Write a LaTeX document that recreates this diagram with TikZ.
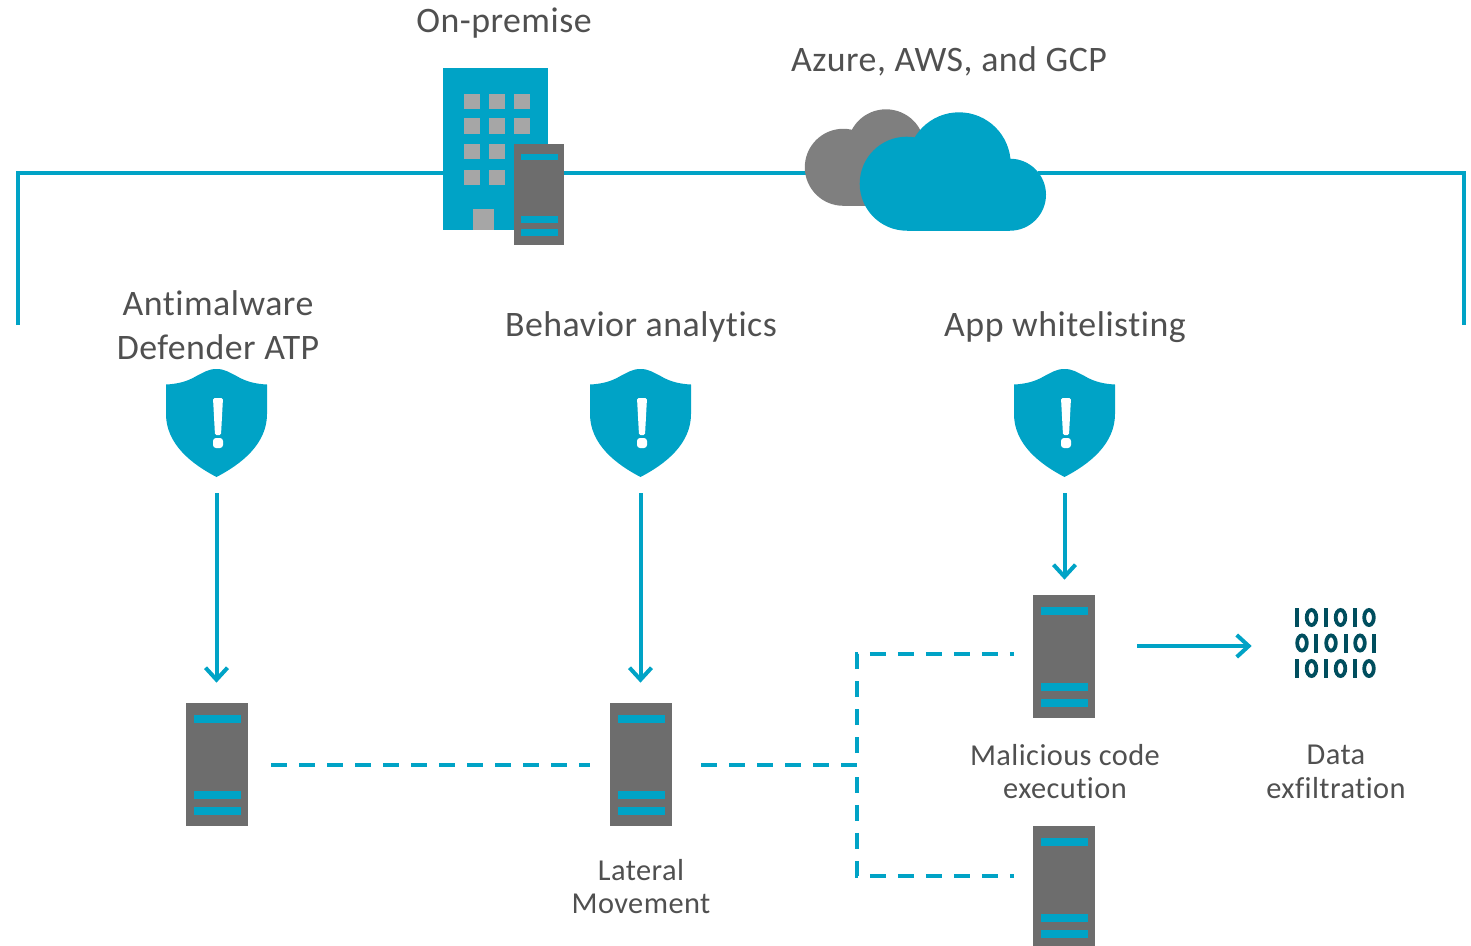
\documentclass[tikz,border=0pt]{standalone}
\usepackage{fontspec}
\setmainfont[LetterSpace=1.4,Ligatures=NoCommon]{Carlito}
\usepackage{tikz}
\usetikzlibrary{calc}
\usetikzlibrary{arrows.meta}
\definecolor{wireteal}{HTML}{00A3C6}
\definecolor{srvgray}{HTML}{6D6D6D}
\definecolor{cloudgray}{HTML}{7F7F7F}
\definecolor{wingray}{HTML}{A6A6A6}
\definecolor{bitsteal}{HTML}{004E5E}
\definecolor{labelgray}{HTML}{505050}
\tikzset{
  server/.style={rectangle, inner sep=0pt, fill=srvgray, minimum width=1.24cm, minimum height=2.46cm,
    path picture={
      \path (path picture bounding box.north west) coordinate (p1)
            (path picture bounding box.north east) coordinate (p2)
            (path picture bounding box.south west) coordinate (p3);
      \foreach \ya/\yb in {.098/.163, .715/.78, .846/.911}
        \fill[wireteal] ($(p1)!.13!(p2) + \ya*(p3) - \ya*(p1)$) rectangle ($(p1)!.88!(p2) + \yb*(p3) - \yb*(p1)$);
    }},
  iconbox/.style={rectangle, inner sep=0pt},
  wire/.style={wireteal, line width=.07cm},
  dashwire/.style={wire, dash pattern=on .32cm off .24cm, dash phase=.32cm},
  flow/.style={wire, line width=.08cm, -{Straight Barb[length=.24cm,width=.44cm]}},
  toplabel/.style={labelgray, align=center, font=\fontsize{20.4}{25}\selectfont},
  sublabel/.style={labelgray, align=center, font=\fontsize{17.3}{19.2}\selectfont}
}
\newcommand{\shieldicon}[1]{%
  \begin{scope}[shift={(#1)}]
    \fill[wireteal] (0,-54) .. controls (-8,-54) and (-12,-51) .. (-20,-47)
      .. controls (-30,-41) and (-40,-39) .. (-50.5,-38.5) -- (-50.5,-9)
      .. controls (-50.5,21) and (-25,41) .. (0,54)
      .. controls (25,41) and (50.5,21) .. (50.5,-9) -- (50.5,-38.5)
      .. controls (40,-39) and (30,-41) .. (20,-47)
      .. controls (12,-51) and (8,-54) .. (0,-54) -- cycle;
    \fill[white, rounded corners=.03cm] (-3.5,-25) -- (6.5,-25) -- (4.5,12) -- (-1.5,12) -- cycle;
    \fill[white, rounded corners=.06cm] (-3.5,15) rectangle (6.5,25);
  \end{scope}}
\begin{document}
\begin{tikzpicture}[x=.02cm, y=-.02cm]
\useasboundingbox (0,0) rectangle (1471,946);

\coordinate (lineL) at (18,325);
\coordinate (topL)  at (18,173);
\coordinate (topR)  at (1464,173);
\coordinate (lineR) at (1464,325);
\coordinate (jct)   at (857,765);

\node[iconbox, minimum width=2.42cm, minimum height=3.54cm] (bldg) at (503.5,156.5) {};
\node[iconbox, minimum width=4.6cm, minimum height=2.42cm]  (cloud) at (923,170.5) {};
\node[iconbox, minimum width=2.04cm, minimum height=2.16cm] (shieldA) at (216.5,423) {};
\node[iconbox, minimum width=2.04cm, minimum height=2.16cm] (shieldB) at (640.5,423) {};
\node[iconbox, minimum width=2.04cm, minimum height=2.16cm] (shieldC) at (1064.5,423) {};
\node[iconbox, minimum width=1.66cm, minimum height=1.46cm] (bits) at (1335.5,643.5) {};

\draw[wire] (lineL) -- (topL) -- (bldg.west |- topL);
\draw[wire] (bldg.east |- topL) -- (cloud.west |- topL);
\draw[wire] (cloud.east |- topL) -- (topR) -- (lineR);

% building
\fill[wireteal] (443,68) rectangle (548,230);
\foreach \wy in {94,118.5,144,169.5}
  \foreach \wx in {464,489,514}
    \fill[wingray] (\wx,\wy) rectangle ++(15.5,15.5);
\fill[wingray] (473,209) rectangle (494,230);
\node[server, minimum width=1cm, minimum height=2.02cm] (srvOn) at (539,194.5) {};

% clouds
\fill[cloudgray] (843.3,167.3) circle (38.5);
\fill[cloudgray] (886,148) circle (38.7);
\fill[cloudgray] (843.3,150) rectangle (930,205.8);
\fill[wireteal] (906.7,183.7) circle (47);
\fill[wireteal] (959,164) circle (51.7);
\fill[wireteal] (1010,194.7) circle (36);
\fill[wireteal] (906.7,170) rectangle (1010,230.7);

\shieldicon{shieldA}
\shieldicon{shieldB}
\shieldicon{shieldC}

\node[server] (srvA) at (217,764.5) {};
\node[server] (srvB) at (641,764.5) {};
\node[server] (srvC) at (1064,656.5) {};
\node[server] (srvD) at (1064,887.5) {};

\draw[flow, shorten <=.32cm, shorten >=.4cm] (shieldA.south) -- (shieldA.south |- srvA.north);
\draw[flow, shorten <=.32cm, shorten >=.4cm] (shieldB.south) -- (shieldB.south |- srvB.north);
\draw[flow, shorten <=.32cm, shorten >=.3cm] (shieldC.south) -- (shieldC.south |- srvC.north);
\draw[flow, shorten <=.84cm, shorten >=.84cm] (srvC.east |- 0,646) -- (bits.west |- 0,646);

\draw[wire, dash pattern=on .32cm off .24cm, shorten <=.46cm, shorten >=.4cm] (srvA.east |- jct) -- (srvB.west |- jct);
\draw[wire, dash pattern=on .32cm off .24cm, shorten <=.58cm] (srvB.east |- jct) -- (jct);
\draw[dashwire, shorten >=.38cm] (jct) |- ([yshift=.05cm]srvC.west);
\draw[dashwire, shorten >=.38cm] (jct) |- ([yshift=.23cm]srvD.west);

% bits
\foreach \by in {617.5,668.5} {
  \foreach \bx in {1297,1326,1355}
    \fill[bitsteal] (\bx-2,\by-9.5) rectangle (\bx+2,\by+9.5);
  \foreach \bx in {1311.5,1340.5,1369}
    \draw[bitsteal, line width=.075cm] (\bx,\by) ellipse (4.8 and 7.6);
}
\foreach \bx in {1316,1345.5,1374}
  \fill[bitsteal] (\bx-2,633.5) rectangle (\bx+2,652.5);
\foreach \bx in {1302,1331,1360}
  \draw[bitsteal, line width=.075cm] (\bx,643) ellipse (4.8 and 7.6);

\node[toplabel] (lblOn)    at (504,23.5)  {On-premise};
\node[toplabel] (lblCloud) at (949,61.5)  {Azure, AWS, and GCP};
\node[toplabel] (lblAnti)  at (218,325.5) {Antimalware\\Defender ATP};
\node[toplabel] (lblBeh)   at (641,326.5) {Behavior analytics};
\node[toplabel] (lblApp)   at (1065,327.5) {App whitelisting};
\node[sublabel] (lblLat)   at (641,886.5) {Lateral\\Movement};
\node[sublabel] (lblMal)   at (1065,771.5) {Malicious code\\execution};
\node[sublabel] (lblData)  at (1336,772) {Data\\exfiltration};
\end{tikzpicture}
\end{document}
